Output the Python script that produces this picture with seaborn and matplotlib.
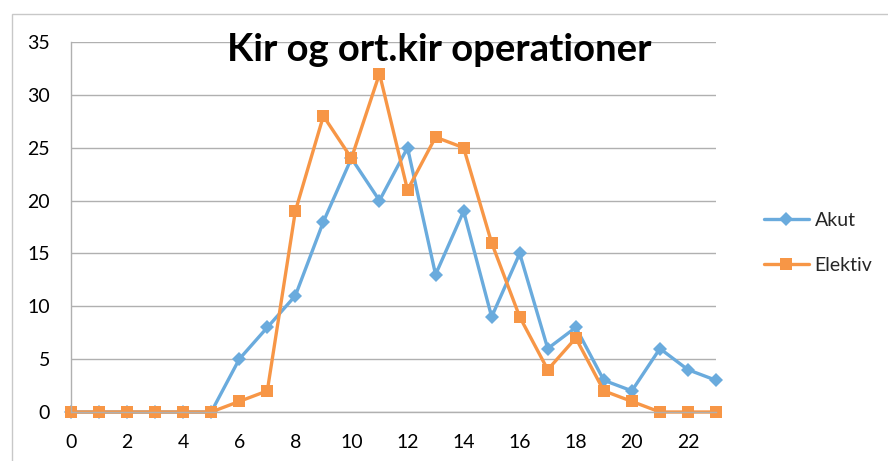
import matplotlib
matplotlib.use("Agg")
import matplotlib.pyplot as plt
import seaborn as sns
import pandas as pd
import numpy as np
from matplotlib.patches import Rectangle
from matplotlib.lines import Line2D

hours = list(range(24))
akut = [0, 0, 0, 0, 0, 0, 5, 8, 11, 18, 24, 20, 25, 13, 19, 9, 15, 6, 8, 3, 2, 6, 4, 3]
elektiv = [0, 0, 0, 0, 0, 0, 1, 2, 19, 28, 24, 32, 21, 26, 25, 16, 9, 4, 7, 2, 1, 0, 0, 0]
series_names = ["Akut", "Elektiv"]
title = "Kir og ort.kir operationer"

df = pd.DataFrame({
    "hour": hours * 2,
    "value": akut + elektiv,
    "series": [series_names[0]] * len(hours) + [series_names[1]] * len(hours),
})

sns.set_theme(style="white")
plt.rcParams["font.family"] = ["Lato", "DejaVu Sans"]

fig = plt.figure(figsize=(8.88, 4.61), dpi=100)
ax = fig.add_axes([71 / 888, 1 - 412 / 461, (716 - 71) / 888, (412 - 42) / 461])

palette = {"Akut": "#6AABDD", "Elektiv": "#F79646"}
markers = {"Akut": "D", "Elektiv": "s"}
sns.lineplot(data=df, x="hour", y="value", hue="series", style="series",
             palette=palette, markers=markers, dashes=False, ax=ax,
             linewidth=2.4, markersize=8, markeredgewidth=0, legend=False)
for line, name in zip(ax.lines, series_names):
    line.set_clip_on(False)
    if name == "Akut":
        line.set_markersize(7)

ax.set_xlim(0, 23)
ax.set_ylim(0, 35)
ax.set_xticks(np.arange(0, 23, 2))
ax.set_xticks(np.arange(0, 24, 1), minor=True)
ax.set_yticks(np.arange(0, 36, 5))
ax.set_xlabel("")
ax.set_ylabel("")
ax.grid(axis="y", color="#B0B0B0", linewidth=1)
ax.grid(axis="x", visible=False)
for s in ["top", "right"]:
    ax.spines[s].set_visible(False)
for s in ["left", "bottom"]:
    ax.spines[s].set_color("#B0B0B0")
    ax.spines[s].set_linewidth(1)
ax.tick_params(axis="both", which="both", direction="out", color="#B0B0B0",
               labelsize=14, labelcolor="black")
ax.tick_params(axis="y", length=5, pad=10)
ax.tick_params(axis="x", which="major", length=5, pad=11)
ax.tick_params(axis="x", which="minor", length=5)
ax.set_axisbelow(True)

fig.text(439 / 888, 1 - 50 / 461, title, ha="center", va="center",
         fontsize=27.5, fontweight="bold", color="black")

handles = [Line2D([], [], color=palette[n], marker=markers[n], linewidth=2.4,
                  markersize=7 if n == "Akut" else 8, markeredgewidth=0)
           for n in series_names]
leg = fig.legend(handles, series_names, loc="center left",
                 bbox_to_anchor=(764 / 888, 1 - 243 / 461), frameon=False,
                 fontsize=14, handlelength=2.3, labelspacing=1.45, handletextpad=0.3,
                 borderpad=0, borderaxespad=0)

fig.patches.append(Rectangle((12 / 888, -0.1), 1.0, 1 - 14 / 461 + 0.1,
                             transform=fig.transFigure, fill=False,
                             edgecolor="#C8C8C8", linewidth=1))

fig.savefig("out.png", dpi=100)
